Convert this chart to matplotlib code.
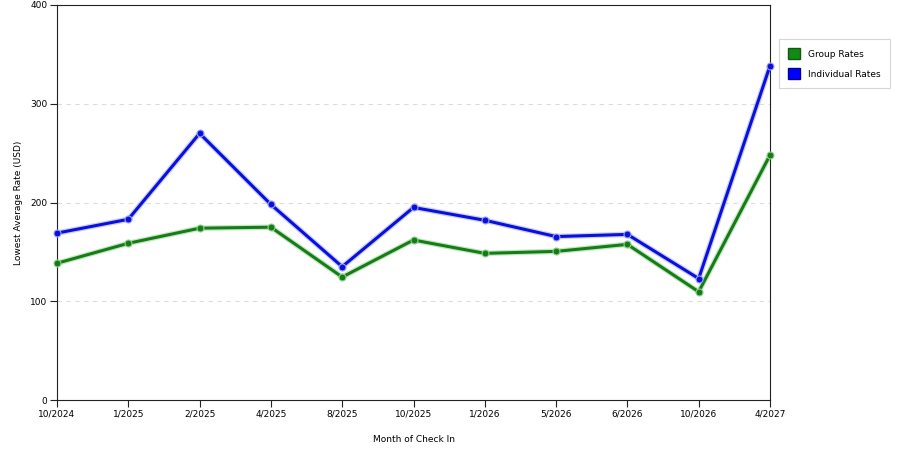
import matplotlib
matplotlib.use("Agg")
import matplotlib.pyplot as plt
from matplotlib.patches import Patch

months = ["10/2024", "1/2025", "2/2025", "4/2025", "8/2025", "10/2025",
          "1/2026", "5/2026", "6/2026", "10/2026", "4/2027"]
group_rates = [138.5, 158.7, 174, 175, 124.5, 162, 148.5, 150.5, 157.6, 109.6, 248]
individual_rates = [169, 183, 270, 198, 135, 195, 182, 165.5, 167.7, 123, 338.4]
y_ticks = [0, 100, 200, 300, 400]

GREEN = "#167d16"
BLUE = "#0a10dc"

plt.rcParams['font.family'] = ['DejaVu Sans']
fig = plt.figure(figsize=(9, 4.5), dpi=100)
ax = fig.add_axes([57/900, 1-400/450, (770-57)/900, (400-5)/450])

x = list(range(len(months)))
for vals, col, glow in [(group_rates, GREEN, "#8fd08f"), (individual_rates, BLUE, "#9aa0ff")]:
    ax.plot(x, vals, color=glow, lw=4.0, alpha=0.5, solid_capstyle='round', zorder=2)
    ax.plot(x, vals, color=col, lw=2.2, zorder=3, marker='o', markersize=5,
            markerfacecolor=col, markeredgecolor=glow, markeredgewidth=0.8,
            clip_on=False)

ax.set_xlim(0, len(months)-1)
ax.set_ylim(0, 400)
ax.set_xticks(x)
ax.set_xticklabels(months, fontsize=6.5)
ax.set_yticks(y_ticks)
ax.set_yticklabels([str(v) for v in y_ticks], fontsize=6.5)
ax.tick_params(direction='out', length=5, width=0.8, color='#222222', pad=2)
for y in y_ticks[1:-1]:
    ax.axhline(y, color='#dcdcdc', lw=0.8, ls=(0, (4, 4)), zorder=1)
for s in ax.spines.values():
    s.set_color('#222222')
    s.set_linewidth(0.8)

ax.set_xlabel("Month of Check In", fontsize=6.5, labelpad=12)
ax.set_ylabel("Lowest Average Rate (USD)", fontsize=6.5, labelpad=5)

handles = [Patch(facecolor="#138a13", edgecolor="#0d5c0d", label="Group Rates"),
           Patch(facecolor="#0000ff", edgecolor="#00009a", label="Individual Rates")]
leg = fig.legend(handles=handles, loc='upper left', bbox_to_anchor=(779/900, 1-39/450),
                 fontsize=6.5, frameon=True, fancybox=False, edgecolor='#cccccc',
                 handlelength=1.3, handleheight=1.5, borderpad=1.0, labelspacing=1.0,
                 handletextpad=0.9, borderaxespad=0)
leg.get_frame().set_linewidth(0.8)

fig.savefig("out.png", dpi=100)
